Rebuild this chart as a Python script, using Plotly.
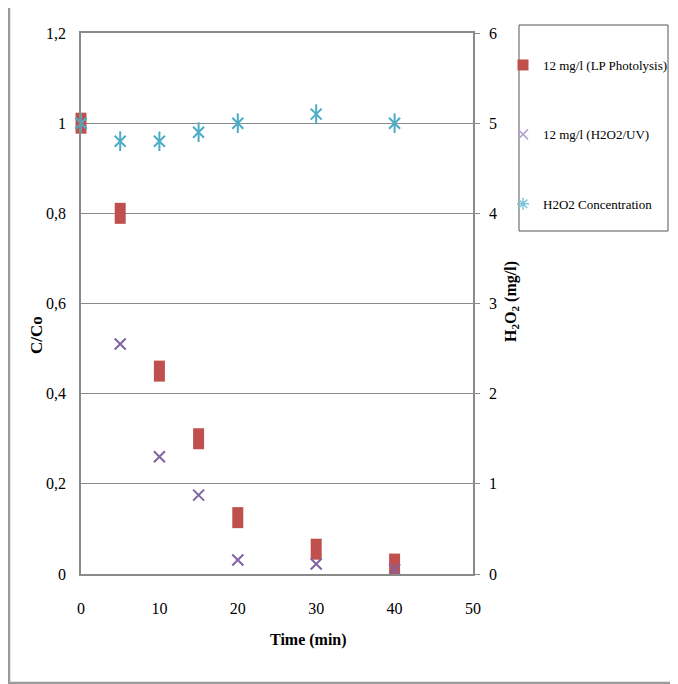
import plotly.graph_objects as go

# ---- data ----
time_min = [0, 5, 10, 15, 20, 30, 40]
lp_photolysis = [1.0, 0.80, 0.45, 0.30, 0.125, 0.055, 0.022]
h2o2_uv = [1.0, 0.51, 0.26, 0.175, 0.031, 0.022, 0.01]
h2o2_conc = [5.0, 4.8, 4.8, 4.9, 5.0, 5.1, 5.0]

names = ["12 mg/l (LP Photolysis)", "12 mg/l (H2O2/UV)", "H2O2 Concentration"]
RED, PURPLE, CYAN = "#C0504D", "#8064A2", "#4BACC6"
GRAY = "#8a8a8a"
FONT = "Liberation Serif"

# the page body adds an 8px margin; lay out in screen pixels and convert
OFF = 8
W, H = 678 - OFF, 684 - OFF
PL, PR, PT, PB = 81, 473, 33, 574   # plot area in screen pixels


def fx(px):
    return (px - PL) / (PR - PL)


def fy(py):
    return (PB - py) / (PB - PT)


fig = go.Figure()

# data traces
fig.add_trace(go.Scatter(
    x=time_min, y=lp_photolysis, mode="markers", showlegend=False, cliponaxis=False,
    marker=dict(symbol="line-ns", size=15, line=dict(color=RED, width=11), color=RED)))
fig.add_trace(go.Scatter(
    x=time_min, y=h2o2_uv, mode="markers", showlegend=False, cliponaxis=False,
    marker=dict(symbol="x-thin-open", size=11, line=dict(color=PURPLE, width=2), color=PURPLE)))
fig.add_trace(go.Scatter(
    x=time_min, y=h2o2_conc, yaxis="y2", mode="markers", showlegend=False, cliponaxis=False,
    marker=dict(symbol="x-thin-open", size=11, line=dict(color=CYAN, width=2), color=CYAN)))
fig.add_trace(go.Scatter(
    x=time_min, y=h2o2_conc, yaxis="y2", mode="markers", showlegend=False, cliponaxis=False,
    marker=dict(symbol="line-ns-open", size=14, line=dict(color=CYAN, width=2), color=CYAN)))

# legend entries
LAV, LCY = "#b3a3d0", "#7cc6da"
fig.add_trace(go.Scatter(x=[None], y=[None], mode="markers", name=names[0], legendgroup="a",
                         marker=dict(symbol="square", size=11, color=RED)))
fig.add_trace(go.Scatter(x=[None], y=[None], mode="markers", name=names[1], legendgroup="b",
                         marker=dict(symbol="x-thin-open", size=10, color=LAV,
                                     line=dict(color=LAV, width=1.5))))
fig.add_trace(go.Scatter(x=[None], y=[None], mode="markers", name=names[2], legendgroup="c",
                         marker=dict(symbol="asterisk-open", size=10, color=LCY,
                                     line=dict(color=LCY, width=1.5))))

fig.update_layout(
    width=W, height=H,
    margin=dict(l=PL - OFF, r=W - (PR - OFF), t=PT - OFF, b=H - (PB - OFF), autoexpand=False),
    paper_bgcolor="white", plot_bgcolor="white",
    separators=", ",
    font=dict(family=FONT, color="black", size=16),
    xaxis=dict(range=[0, 50], dtick=10, tick0=0, showgrid=False, zeroline=False,
               showline=True, mirror=True, linecolor=GRAY, linewidth=1.5,
               ticks="", ticklabelstandoff=19, tickfont=dict(size=16)),
    yaxis=dict(range=[0, 1.2], dtick=0.2, tick0=0, showgrid=True, gridcolor=GRAY, gridwidth=1.2,
               zeroline=False, showline=True, linecolor=GRAY, linewidth=1.5,
               ticks="", ticklabelstandoff=10, tickfont=dict(size=16)),
    yaxis2=dict(range=[0, 6], dtick=1, tick0=0, overlaying="y", side="right", showgrid=False,
                zeroline=False, showline=True, linecolor=GRAY, linewidth=1.5,
                ticks="outside", ticklen=5, tickcolor=GRAY, tickwidth=1.2,
                ticklabelstandoff=6, tickfont=dict(size=16)),
    legend=dict(x=fx(503), y=fy(50), xanchor="left", yanchor="top",
                bgcolor="rgba(0,0,0,0)", borderwidth=0, tracegroupgap=49.5,
                traceorder="grouped", font=dict(family=FONT, size=13, color="black")),
    shapes=[
        dict(type="rect", xref="paper", yref="paper", x0=fx(9), x1=fx(700), y0=fy(683), y1=fy(5),
             line=dict(color="#9a9a9a", width=2.5), fillcolor="rgba(0,0,0,0)", layer="below"),
        dict(type="rect", xref="paper", yref="paper", x0=fx(519), x1=fx(668), y0=fy(231), y1=fy(25),
             line=dict(color="#555555", width=1), fillcolor="rgba(0,0,0,0)"),
    ],
    annotations=[
        dict(text="<b>C/Co</b>", xref="paper", yref="paper", x=fx(36), y=fy(335), textangle=-90,
             xanchor="center", yanchor="middle", showarrow=False, font=dict(size=17, family=FONT)),
        dict(text="<b>H<sub>2</sub>O<sub>2</sub> (mg/l)</b>", xref="paper", yref="paper",
             x=fx(511), y=fy(302), textangle=-90, xanchor="center", yanchor="middle",
             showarrow=False, font=dict(size=16, family=FONT)),
        dict(text="<b>Time (min)</b>", xref="paper", yref="paper", x=fx(308), y=fy(640),
             xanchor="center", yanchor="middle", showarrow=False, font=dict(size=16, family=FONT)),
    ],
)

fig.write_html("out.html")
